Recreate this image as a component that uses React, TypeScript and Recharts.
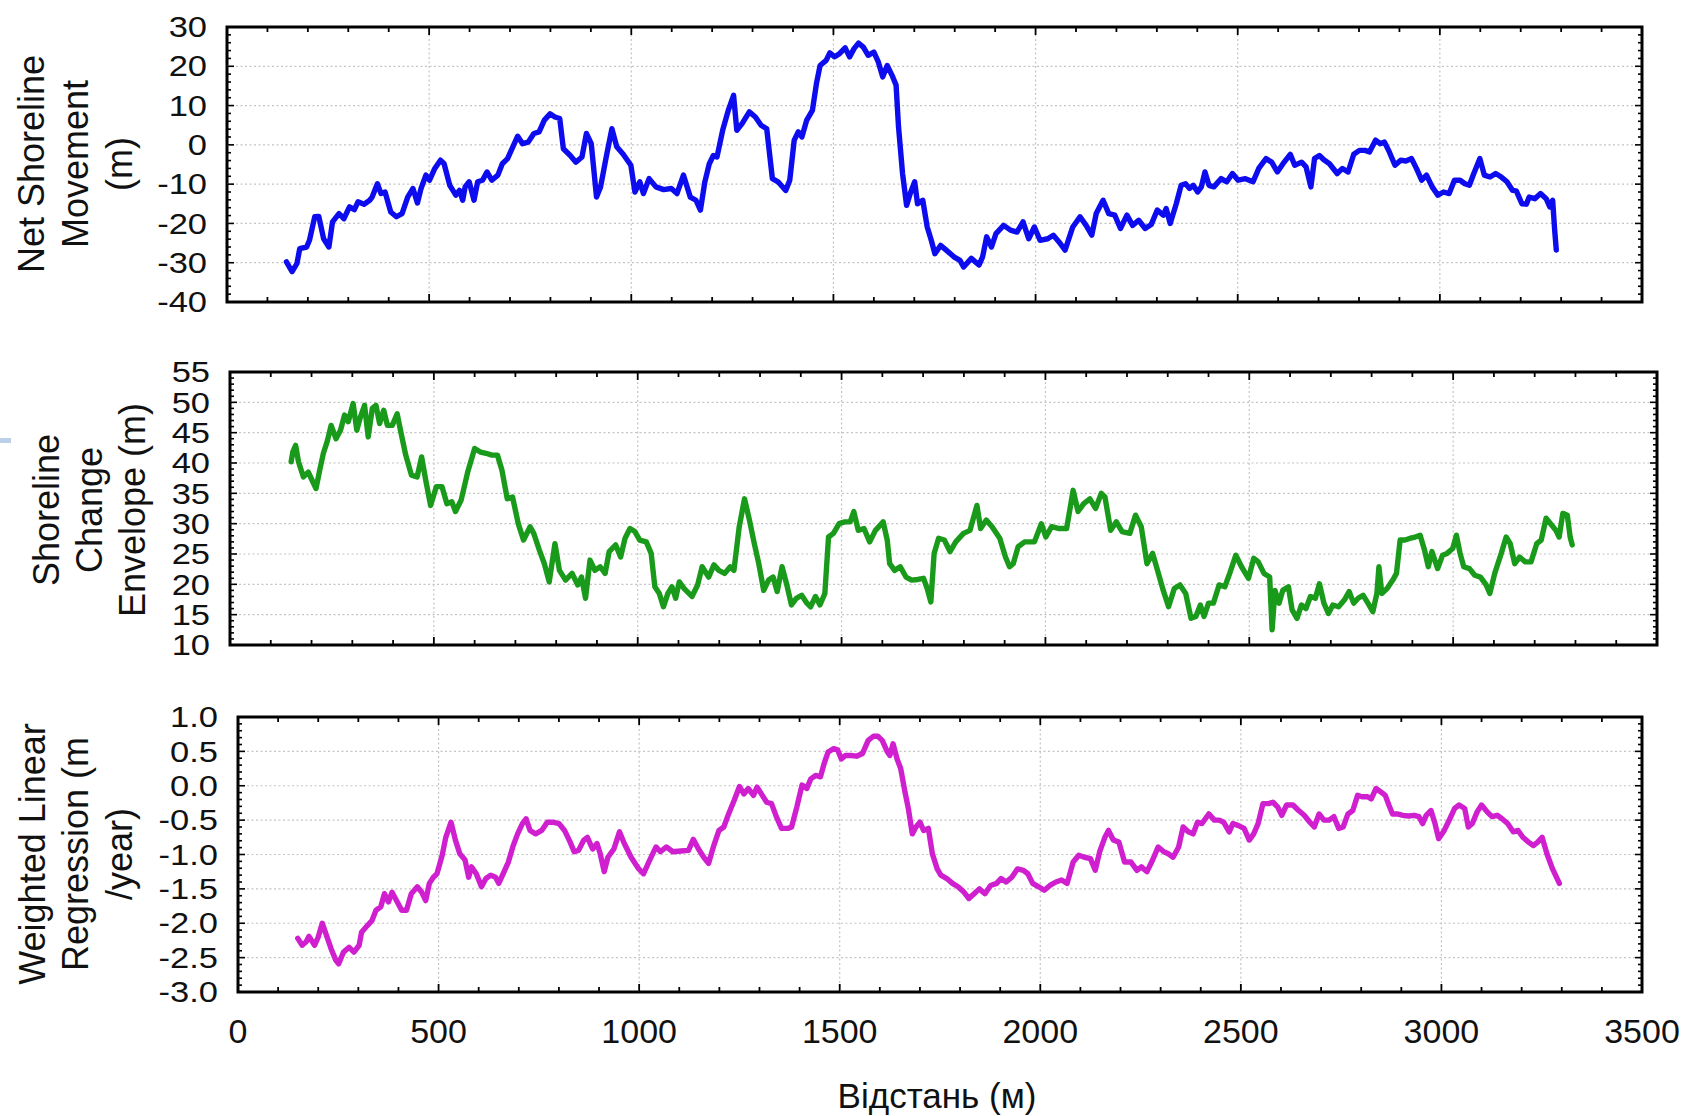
import React from 'react';
import { LineChart, Line, XAxis, YAxis, ReferenceLine, ReferenceArea } from 'recharts';

const FONT = '"Liberation Sans", Arial, Helvetica, sans-serif';

// ---------- Data (distance in m) ----------
const nsmX = [147,161,173,180,197,204,217,227,239,252,261,277,289,303,315,324,339,353,359,372,381,391,405,419,433,447,460,471,480,492,501,514,528,537,551,566,575,583,589,599,611,620,632,643,655,670,681,694,707,719,731,745,759,772,785,799,811,823,832,849,863,878,889,901,914,924,938,952,964,980,999,1009,1021,1030,1044,1061,1080,1099,1113,1129,1146,1160,1171,1182,1193,1203,1212,1226,1240,1253,1261,1274,1292,1307,1321,1335,1349,1363,1382,1392,1403,1413,1422,1434,1448,1458,1467,1482,1491,1503,1515,1529,1540,1551,1562,1574,1586,1600,1611,1622,1633,1645,1655,1661,1671,1681,1690,1701,1708,1721,1732,1742,1751,1765,1779,1798,1813,1822,1841,1860,1869,1879,1891,1902,1921,1938,1954,1969,1983,1997,2011,2030,2044,2058,2073,2092,2110,2125,2139,2150,2167,2181,2196,2210,2226,2240,2255,2271,2286,2301,2316,2323,2333,2348,2360,2371,2381,2390,2401,2410,2419,2429,2441,2459,2473,2487,2501,2519,2538,2552,2570,2584,2598,2612,2630,2641,2658,2669,2681,2690,2702,2713,2727,2746,2759,2773,2787,2801,2815,2826,2841,2852,2863,2875,2889,2903,2916,2930,2942,2955,2967,2981,2995,3009,3023,3036,3050,3062,3073,3084,3099,3110,3124,3138,3152,3166,3180,3189,3203,3214,3221,3235,3249,3263,3272,3279,3284,3288];
const nsmY = [-29.8,-32.3,-30.2,-26.4,-26,-24.3,-18.3,-18.2,-23.9,-26,-19.6,-17.5,-18.8,-15.8,-16.5,-14.5,-15.1,-14.1,-13.3,-9.9,-12.4,-12,-17.1,-18.3,-17.5,-13.3,-11.1,-14.8,-11.1,-7.7,-9,-6,-3.9,-4.8,-10.3,-12.8,-11.6,-14.1,-10.7,-9.4,-14.1,-9.4,-9,-6.9,-9,-7.7,-4.8,-3.5,-0.5,2.2,0.3,0.7,2.9,3.3,6.3,7.9,7.1,6.7,-1,-2.7,-4.4,-3.1,2.9,0.3,-13.3,-10.7,-3.1,4.1,-0.5,-2.4,-5.2,-12,-9.4,-12.4,-8.6,-10.7,-11.4,-11.1,-12.4,-7.7,-13.3,-14.1,-16.6,-9.4,-4.8,-2.7,-3.1,3.7,8.8,12.6,3.7,5.4,8.4,7.1,5,4.1,-8.6,-9.4,-11.6,-9,1.2,3.3,2,6.3,8.8,15.6,20.2,21.5,23.4,22.4,23.2,24.7,22.4,24.5,25.9,24.9,22.8,23.6,21.1,17.3,20.2,17.7,15.2,4.6,-7.3,-15.4,-12.4,-9.4,-15,-14.1,-20.9,-24.3,-27.7,-25.6,-26.8,-28.5,-29.4,-31.1,-28.9,-30.6,-28.5,-23.4,-26,-22.6,-20.5,-21.7,-22.2,-19.6,-23.9,-20.9,-24.3,-23.9,-23,-24.7,-26.8,-20.9,-18.3,-20.5,-23,-17.5,-14.1,-17.5,-17.9,-21.3,-17.9,-20.5,-19.2,-21.3,-20.3,-16.6,-17.9,-16.2,-20,-15,-10.3,-9.9,-11.1,-10.3,-12,-10.7,-6.9,-10.3,-10.7,-8.6,-9.4,-7.3,-9,-8.6,-9.4,-6,-3.5,-4.4,-6.9,-4.8,-2.4,-5.2,-4.4,-5.6,-10.7,-3.5,-2.7,-3.8,-4.8,-7.3,-6,-6.9,-2.4,-1.4,-1.4,-1.8,1.2,0.3,0.7,-1.8,-5.2,-3.9,-4.1,-3.5,-6,-9,-7.7,-10.7,-12.8,-12,-12.4,-9,-9,-9.9,-10.3,-7.3,-3.5,-7.7,-8.2,-7.3,-8.2,-9.4,-11.6,-11.7,-15,-15.1,-13.3,-13.7,-12.4,-13.7,-15.8,-14.1,-21.7,-26.8];

const sceX = [150,154,161,168,180,192,201,211,220,229,239,248,260,271,281,290,302,311,320,330,339,349,358,367,377,386,398,410,420,431,445,459,470,480,492,506,520,532,544,553,567,583,600,614,628,642,656,667,680,693,707,720,736,745,759,771,783,797,808,823,839,853,862,872,883,895,908,920,930,946,958,969,981,993,1005,1021,1033,1042,1053,1063,1074,1084,1093,1102,1114,1133,1147,1158,1174,1187,1199,1213,1227,1236,1249,1262,1274,1286,1297,1309,1321,1332,1342,1354,1365,1377,1389,1402,1415,1424,1436,1447,1459,1468,1480,1494,1508,1521,1530,1541,1555,1569,1583,1602,1612,1618,1630,1644,1658,1672,1687,1701,1710,1719,1727,1738,1752,1766,1780,1799,1815,1832,1841,1855,1869,1888,1902,1912,1921,1933,1949,1973,1990,2001,2015,2034,2052,2068,2080,2094,2109,2123,2137,2146,2160,2174,2188,2207,2221,2235,2249,2263,2275,2289,2302,2316,2330,2344,2357,2369,2380,2389,2400,2412,2426,2440,2452,2467,2481,2498,2511,2522,2536,2550,2556,2563,2573,2582,2596,2605,2617,2628,2639,2650,2662,2672,2683,2694,2705,2719,2733,2745,2756,2767,2779,2791,2803,2813,2818,2825,2838,2852,2861,2870,2882,2895,2907,2919,2930,2939,2948,2962,2974,2985,2999,3008,3017,3026,3040,3053,3067,3081,3090,3102,3118,3130,3140,3151,3163,3177,3191,3205,3216,3228,3239,3252,3260,3269,3280,3287,3292];
const sceY = [40.2,41.8,42.9,40.2,37.7,38.5,37.2,35.8,38.8,41.6,43.7,46.2,44,45.4,47.9,46.8,49.8,45.4,47.6,49.5,44.3,49,49.5,46.5,48.7,46.2,46.2,48.1,44.8,41.3,38,37.7,41,37.2,33,36.1,36.1,33.3,33.6,32,33.9,38.5,42.4,41.8,41.6,41.3,41.3,38.8,34.1,34.4,30,27.3,29.5,28.4,25.6,23.4,20.4,26.7,22.3,20.7,21.8,19.9,21.2,17.7,24,22.3,22.9,21.8,25.4,26.5,24.5,27.6,29.2,28.7,27.3,27,25.1,19.6,18.5,16.3,18.5,19.6,17.7,20.4,19.3,18,19.9,22.9,21.2,23.2,22.3,21.8,22.9,22.3,29.5,34.1,30.6,26.7,23.4,19,20.7,21.2,18.8,22.9,20.1,16.6,17.7,18.2,16.9,16.3,18,16.6,18.5,27.8,28.4,30,30.3,30.3,32,28.9,29.2,27,28.9,30.3,27.3,23.4,22.3,22.9,21.2,20.7,20.8,21,19.3,17.1,25.1,27.6,27.3,25.4,27,28.4,28.9,33,29.2,30.6,29.5,27.6,24.5,22.9,23.4,26.2,27,27,30,27.8,29.5,29.2,29.2,35.5,32,33.3,34.1,32.5,35,34.4,28.9,30.3,28.7,28.4,31.4,29.5,23.4,25.1,22.3,19,16.3,19.3,19.9,18.5,14.4,14.7,16.6,14.7,16.9,16.9,19.9,19.6,21.8,24.8,22.9,21,24.3,23.7,21.8,21.2,12.5,19,16.9,19,19.6,15.8,14.4,16.6,16,18,17.7,20.1,16.9,15.2,16.6,16.3,17.4,18.8,16.9,17.7,18.2,16.9,15.5,18.5,22.9,18.5,19.3,20.7,21.8,27.3,27.3,27.6,27.8,28.1,25.6,22.9,25.4,22.6,24.8,25.1,25.9,28.1,25.1,22.9,22.6,21.5,21.2,19.9,18.5,21.8,25.1,27.8,26.7,23.4,24.5,23.7,23.7,26.7,27.3,30.9,30,28.9,27.8,31.7,31.4,27.8,26.5];

const wlrX = [149,160,170,177,191,200,210,219,232,244,251,263,277,289,302,308,323,334,344,356,365,375,384,397,408,420,432,447,458,468,477,487,496,509,518,531,542,553,566,575,582,594,607,618,630,642,650,661,674,685,697,709,718,728,742,757,771,785,800,814,828,838,849,862,871,884,895,903,913,922,937,951,963,980,999,1011,1024,1042,1053,1068,1084,1104,1123,1135,1148,1161,1173,1185,1199,1211,1223,1237,1250,1261,1272,1285,1294,1307,1318,1330,1342,1355,1371,1380,1393,1406,1418,1428,1440,1452,1461,1471,1485,1495,1504,1514,1528,1542,1557,1571,1584,1595,1606,1619,1625,1633,1643,1652,1662,1671,1681,1690,1700,1709,1721,1731,1743,1752,1767,1781,1795,1810,1822,1835,1848,1862,1876,1891,1902,1915,1929,1943,1958,1969,1981,1996,2010,2024,2039,2053,2067,2082,2096,2110,2125,2137,2148,2161,2170,2182,2196,2210,2226,2241,2252,2266,2280,2294,2308,2319,2331,2345,2356,2369,2381,2392,2403,2420,2434,2446,2457,2471,2480,2494,2508,2521,2532,2543,2555,2569,2580,2592,2602,2614,2630,2644,2658,2672,2683,2695,2707,2720,2732,2744,2755,2767,2779,2791,2802,2816,2825,2837,2849,2860,2869,2878,2890,2904,2918,2932,2944,2953,2962,2974,2984,2993,3007,3021,3033,3044,3058,3067,3077,3089,3100,3114,3126,3139,3151,3165,3179,3191,3203,3217,3229,3240,3251,3263,3277,3294];
const wlrY = [-2.22,-2.32,-2.27,-2.19,-2.32,-2.2,-2.0,-2.15,-2.37,-2.54,-2.59,-2.42,-2.35,-2.42,-2.32,-2.13,-2.03,-1.96,-1.81,-1.76,-1.57,-1.69,-1.55,-1.69,-1.81,-1.81,-1.57,-1.47,-1.55,-1.67,-1.42,-1.33,-1.28,-1.01,-0.75,-0.53,-0.79,-0.99,-1.08,-1.33,-1.18,-1.28,-1.47,-1.35,-1.3,-1.33,-1.42,-1.28,-1.11,-0.89,-0.7,-0.55,-0.48,-0.65,-0.7,-0.65,-0.53,-0.53,-0.55,-0.65,-0.82,-0.96,-0.94,-0.79,-0.75,-0.92,-0.84,-0.99,-1.25,-1.04,-0.92,-0.67,-0.84,-1.04,-1.21,-1.28,-1.11,-0.89,-0.96,-0.89,-0.96,-0.95,-0.94,-0.78,-0.92,-1.04,-1.13,-0.89,-0.65,-0.6,-0.41,-0.21,-0.01,-0.12,-0.04,-0.14,-0.02,-0.14,-0.24,-0.26,-0.45,-0.62,-0.62,-0.6,-0.31,0.01,-0.04,0.1,0.15,0.13,0.32,0.49,0.54,0.52,0.39,0.44,0.44,0.43,0.47,0.66,0.72,0.72,0.66,0.49,0.44,0.61,0.39,0.25,-0.07,-0.33,-0.7,-0.6,-0.53,-0.65,-0.62,-0.99,-1.21,-1.3,-1.35,-1.42,-1.47,-1.55,-1.64,-1.57,-1.5,-1.57,-1.45,-1.42,-1.35,-1.4,-1.33,-1.21,-1.23,-1.28,-1.42,-1.47,-1.52,-1.45,-1.4,-1.37,-1.42,-1.11,-1.01,-1.04,-1.06,-1.23,-0.96,-0.75,-0.65,-0.79,-0.82,-1.11,-1.11,-1.23,-1.18,-1.25,-1.08,-0.89,-0.96,-0.99,-1.04,-0.89,-0.6,-0.67,-0.7,-0.53,-0.55,-0.41,-0.5,-0.5,-0.53,-0.67,-0.55,-0.58,-0.62,-0.79,-0.7,-0.55,-0.26,-0.26,-0.24,-0.31,-0.43,-0.28,-0.28,-0.36,-0.43,-0.53,-0.6,-0.41,-0.5,-0.5,-0.45,-0.62,-0.6,-0.41,-0.36,-0.14,-0.16,-0.16,-0.19,-0.04,-0.09,-0.14,-0.28,-0.41,-0.41,-0.43,-0.44,-0.43,-0.45,-0.55,-0.43,-0.36,-0.55,-0.77,-0.65,-0.48,-0.33,-0.28,-0.33,-0.6,-0.55,-0.38,-0.28,-0.38,-0.45,-0.43,-0.48,-0.55,-0.67,-0.65,-0.75,-0.82,-0.87,-0.82,-0.75,-0.99,-1.21,-1.42];

// ---------- Tick labels ----------
const xTickLabels = ['0', '500', '1000', '1500', '2000', '2500', '3000', '3500'];
const nsmTickLabels = ['30', '20', '10', '0', '-10', '-20', '-30', '-40'];
const sceTickLabels = ['55', '50', '45', '40', '35', '30', '25', '20', '15', '10'];
const wlrTickLabels = ['1.0', '0.5', '0.0', '-0.5', '-1.0', '-1.5', '-2.0', '-2.5', '-3.0'];

const zip = (xs: number[], ys: number[]) => xs.map((x, i) => ({ x, y: ys[i] }));

const range = (a: number, b: number, step: number) => {
  const out: number[] = [];
  const n = Math.round((b - a) / step);
  for (let i = 0; i <= n; i++) out.push(Math.round((a + i * step) * 1000) / 1000);
  return out;
};

const xMinorTicks = range(0, 3500, 100);
const xMajor = xTickLabels.map(Number);

type PanelProps = {
  data: { x: number; y: number }[];
  color: string;
  labels: string[];
  minorStep: number;
  L: number; T: number; R: number; B: number;
  showX: boolean;
};

function Panel({ data, color, labels, minorStep, L, T, R, B, showX }: PanelProps) {
  const majors = labels.map(Number);
  const yMax = Math.max(...majors);
  const yMin = Math.min(...majors);
  const plotW = R - L;
  const plotH = B - T;
  const padTop = 26;
  const xAxisH = 20;
  const extraBottom = showX ? 50 : 12;
  const chartH = padTop + plotH + xAxisH + extraBottom;
  const yAxisW = 150;
  const yTicks = range(yMin, yMax, minorStep);

  const YTick = (props: any) => {
    const { x, y, payload } = props;
    const v = payload.value;
    const idx = majors.findIndex((m) => Math.abs(m - v) < 1e-6);
    const len = idx >= 0 ? 7 : 4;
    return (
      <g>
        <line x1={x} x2={x + len} y1={y} y2={y} stroke="#000" strokeWidth={1.6} />
        <line x1={x + plotW} x2={x + plotW - len} y1={y} y2={y} stroke="#000" strokeWidth={1.6} />
        {idx >= 0 && (
          <text
            transform={`translate(${x - 20},${y}) scale(1.15,1)`}
            textAnchor="end"
            dominantBaseline="central"
            fontSize={30}
            fontFamily={FONT}
            fill="#111"
          >
            {labels[idx]}
          </text>
        )}
      </g>
    );
  };

  const XTick = (props: any) => {
    const { x, y, payload } = props;
    const v = payload.value;
    const idx = xMajor.indexOf(v);
    const len = idx >= 0 ? 8 : 5;
    return (
      <g>
        <line x1={x} x2={x} y1={y} y2={y - len} stroke="#000" strokeWidth={1.8} />
        <line x1={x} x2={x} y1={y - plotH} y2={y - plotH + len} stroke="#000" strokeWidth={1.8} />
        {showX && idx >= 0 && (
          <text x={x} y={y + 39} textAnchor="middle" dominantBaseline="central" fontSize={34} fontFamily={FONT} fill="#111">
            {xTickLabels[idx]}
          </text>
        )}
      </g>
    );
  };

  const gridY = majors.filter((m) => m !== yMax && m !== yMin);
  const gridX = xMajor.filter((m) => m !== 0 && m !== 3500);

  return (
    <div style={{ position: 'absolute', left: 0, top: T - padTop, width: 1686, height: chartH }}>
      <LineChart
        width={1686}
        height={chartH}
        data={data}
        margin={{ top: padTop, left: L - yAxisW, right: 1686 - R, bottom: extraBottom }}
      >
        <XAxis
          type="number"
          dataKey="x"
          domain={[0, 3500]}
          ticks={xMinorTicks}
          interval={0}
          height={xAxisH}
          axisLine={false}
          tickLine={false}
          tickSize={0}
          tickMargin={0}
          tick={XTick}
          allowDataOverflow
        />
        <YAxis
          type="number"
          domain={[yMin, yMax]}
          ticks={yTicks}
          interval={0}
          width={yAxisW}
          axisLine={false}
          tickLine={false}
          tickSize={0}
          tickMargin={0}
          tick={YTick}
          allowDataOverflow
        />
        {gridY.map((g) => (
          <ReferenceLine key={'gy' + g} y={g} stroke="#c4c4c4" strokeWidth={1.2} strokeDasharray="2 2.5" />
        ))}
        {gridX.map((g) => (
          <ReferenceLine key={'gx' + g} x={g} stroke="#c4c4c4" strokeWidth={1.2} strokeDasharray="2 2.5" />
        ))}
        <ReferenceArea x1={0} x2={3500} y1={yMin} y2={yMax} fill="none" fillOpacity={0} stroke="#000" strokeWidth={3} />
        <Line
          type="linear"
          dataKey="y"
          stroke={color}
          strokeWidth={5.4}
          dot={false}
          activeDot={false}
          strokeLinejoin="round"
          strokeLinecap="round"
          isAnimationActive={false}
        />
      </LineChart>
    </div>
  );
}

function Titles() {
  const t = (lines: { x: number; s: string }[], cy: number, key: string) =>
    lines.map((l, i) => (
      <text
        key={key + i}
        x={l.x}
        y={cy}
        transform={`rotate(-90 ${l.x} ${cy})`}
        textAnchor="middle"
        dominantBaseline="central"
        fontSize={36}
        fontFamily={FONT}
        fill="#111"
      >
        {l.s}
      </text>
    ));
  return (
    <svg width={1686} height={1116} style={{ position: 'absolute', left: 0, top: 0, pointerEvents: 'none' }}>
      {t([{ x: 31, s: 'Net Shoreline' }, { x: 75, s: 'Movement' }, { x: 119, s: '(m)' }], 164, 'a')}
      {t([{ x: 46, s: 'Shoreline' }, { x: 89, s: 'Change' }, { x: 132, s: 'Envelope (m)' }], 510, 'b')}
      {t([{ x: 32, s: 'Weighted Linear' }, { x: 75, s: 'Regression (m' }, { x: 119, s: '/year)' }], 854, 'c')}
      <text x={937} y={1095} textAnchor="middle" dominantBaseline="central" fontSize={35} fontFamily={FONT} fill="#111">
        Відстань (м)
      </text>
    </svg>
  );
}

export default function App() {
  return (
    <div style={{ position: 'absolute', left: 0, top: 0, width: 1686, height: 1116, background: '#fff', overflow: 'hidden' }}>
      <div style={{ position: 'absolute', left: 0, top: 438, width: 11, height: 5, background: '#bcd0ea' }} />
      <Panel data={zip(nsmX, nsmY)} color="#0c0cee" labels={nsmTickLabels} minorStep={2} L={227} T={27} R={1642} B={302} showX={false} />
      <Panel data={zip(sceX, sceY)} color="#1a9a1a" labels={sceTickLabels} minorStep={1} L={230} T={372} R={1657} B={645} showX={false} />
      <Panel data={zip(wlrX, wlrY)} color="#cf1fcf" labels={wlrTickLabels} minorStep={0.1} L={238} T={717} R={1642} B={992} showX={true} />
      <Titles />
    </div>
  );
}
